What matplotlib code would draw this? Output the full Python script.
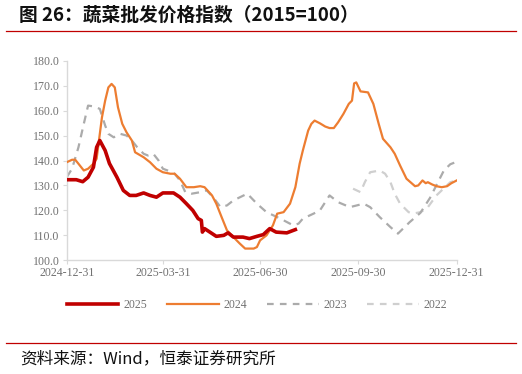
import matplotlib
matplotlib.use("Agg")
import matplotlib.pyplot as plt
import matplotlib.dates as mdates
from matplotlib.lines import Line2D
import pandas as pd

# ── data: day offsets from 2024-12-31 and index values ──
days_2025 = [0, 9, 15, 20, 25, 28, 31, 36, 40, 47, 53, 59, 65, 72, 78, 84, 90,
             100, 106, 112, 118, 123, 126, 127, 129, 134, 140, 147, 151, 156,
             165, 171, 178, 184, 190, 196, 206, 214]
vals_2025 = [132.3, 132.3, 131.5, 133.3, 137.3, 145.3, 148.0, 144.0, 138.8,
             133.3, 128.0, 126.0, 126.0, 127.0, 126.0, 125.3, 127.0, 127.0,
             125.3, 122.7, 120.0, 116.7, 116.0, 111.3, 112.7, 111.3, 109.6,
             110.0, 111.0, 109.3, 109.3, 108.7, 109.6, 110.3, 112.7, 111.3,
             111.0, 112.3]

days_2024 = [0, 5, 8, 11, 16, 20, 25, 28, 31, 33, 36, 39, 42, 45, 48, 52, 56,
             61, 64, 72, 78, 84, 90, 97, 101, 106, 112, 119, 125, 129, 136,
             140, 145, 150, 156, 162, 167, 175, 178, 181, 187, 193, 197, 203,
             209, 214, 218, 221, 226, 229, 232, 237, 242, 246, 250, 254, 259,
             264, 267, 269, 271, 275, 282, 287, 292, 296, 303, 307, 312, 318,
             326, 329, 333, 336, 338, 342, 346, 351, 356, 360, 365]
vals_2024 = [139.3, 140.3, 140.3, 138.7, 136.0, 136.7, 138.7, 140.7, 150.7,
             157.3, 164.0, 169.3, 170.7, 169.3, 161.3, 154.7, 151.3, 148.0,
             143.3, 141.3, 139.3, 136.7, 135.3, 134.7, 134.7, 132.7, 129.3,
             129.3, 129.7, 129.3, 126.0, 122.7, 117.3, 112.0, 109.3, 106.7,
             104.7, 104.7, 105.3, 108.0, 110.0, 114.0, 118.7, 119.3, 122.7,
             129.3, 138.7, 144.0, 152.0, 154.7, 156.0, 154.9, 153.6, 153.0,
             153.0, 155.3, 158.7, 162.7, 164.0, 170.9, 171.3, 167.7, 167.3,
             162.7, 154.7, 148.7, 145.3, 142.7, 138.0, 132.7, 129.7, 130.0,
             132.0, 130.9, 131.3, 130.4, 129.7, 129.3, 129.7, 130.9, 132.0]

days_2023 = [0, 5, 11, 16, 20, 25, 31, 36, 39, 44, 50, 56, 61, 66, 72, 76, 81,
             86, 90, 97, 101, 106, 111, 117, 125, 131, 137, 144, 150, 156, 169,
             178, 187, 200, 212, 217, 221, 231, 237, 246, 254, 265, 278, 284,
             293, 303, 310, 321, 331, 340, 353, 359, 365]
vals_2023 = [133.3, 136.7, 145.3, 154.7, 162.0, 161.7, 160.7, 154.0, 150.7,
             149.3, 150.7, 150.0, 148.0, 145.3, 142.7, 142.0, 142.7, 140.0,
             136.7, 135.6, 134.7, 132.0, 127.3, 126.7, 127.3, 128.0, 125.3,
             121.3, 122.0, 124.0, 126.7, 122.7, 119.3, 116.7, 114.0, 114.7,
             116.7, 118.7, 120.0, 126.0, 123.3, 121.3, 122.7, 121.3, 117.3,
             113.3, 110.7, 115.3, 119.0, 125.0, 136.0, 138.5, 139.5]

days_2022 = [268, 275, 279, 284, 293, 298, 303, 307, 312, 320, 324, 331, 337,
             346, 359, 365]
vals_2022 = [128.7, 127.3, 131.3, 135.3, 136.0, 134.7, 131.3, 126.7, 122.7,
             119.3, 118.7, 119.3, 120.7, 126.0, 131.3, 132.0]

series_labels = ["2025", "2024", "2023", "2022"]
tick_dates = ["2024-12-31", "2025-03-31", "2025-06-30", "2025-09-30", "2025-12-31"]
y_ticks = [100, 110, 120, 130, 140, 150, 160, 170, 180]

title_text = "图 26：蔬菜批发价格指数（2015=100）"
source_text = "资料来源：Wind，恒泰证券研究所"

BASE = pd.Timestamp("2024-12-31")


def to_dates(days):
    return BASE + pd.to_timedelta(days, unit="D")


RED = "#C00000"
ORANGE = "#ED7D31"
GRAY_23 = "#ABABAB"
GRAY_22 = "#CFCFCF"
TICK_COLOR = "#727272"
SERIF = ["Liberation Serif", "DejaVu Serif"]
CJK = ["Noto Sans CJK SC", "DejaVu Sans"]

fig = plt.figure(figsize=(5.22, 3.74), dpi=100)
ax = fig.add_axes([66.7 / 522, 1 - 260.3 / 374, 390 / 522, 199.6 / 374])

ax.plot(to_dates(days_2022), vals_2022, color=GRAY_22, lw=1.6,
        dashes=(3.6, 2.8), zorder=2)
ax.plot(to_dates(days_2023), vals_2023, color=GRAY_23, lw=1.6,
        dashes=(3.6, 2.8), zorder=2)
ax.plot(to_dates(days_2024), vals_2024, color=ORANGE, lw=1.6, zorder=3)
ax.plot(to_dates(days_2025), vals_2025, color=RED, lw=2.6, zorder=4)

ax.set_ylim(100, 180)
ax.set_yticks(y_ticks)
ax.set_yticklabels([f"{v:.1f}" for v in y_ticks])
ax.set_xlim(pd.Timestamp(tick_dates[0]), pd.Timestamp(tick_dates[-1]))
ax.set_xticks([pd.Timestamp(d) for d in tick_dates])
ax.xaxis.set_major_formatter(mdates.DateFormatter("%Y-%m-%d"))

for side in ("top", "right"):
    ax.spines[side].set_visible(False)
for side in ("left", "bottom"):
    ax.spines[side].set_color("#D9D9D9")
    ax.spines[side].set_linewidth(1.0)
ax.tick_params(axis="both", direction="out", length=3, color="#D9D9D9",
               labelcolor=TICK_COLOR, labelsize=8.6, pad=2)
for lab in ax.get_xticklabels() + ax.get_yticklabels():
    lab.set_family(SERIF)

# legend below the plot
handles = [
    Line2D([], [], color=RED, lw=2.6),
    Line2D([], [], color=ORANGE, lw=1.6),
    Line2D([], [], color=GRAY_23, lw=1.6, dashes=(3.0, 2.8)),
    Line2D([], [], color=GRAY_22, lw=1.6, dashes=(3.0, 2.8)),
]
fig.legend(handles, series_labels, loc="center", ncol=4, frameon=False,
           bbox_to_anchor=(257 / 522, 1 - 305 / 374), handlelength=4.3,
           handletextpad=0.4, columnspacing=1.7,
           prop={"family": SERIF, "size": 8.6}, labelcolor=TICK_COLOR)

# title, rules and source note
fig.text(19 / 522, 1 - 15 / 374, title_text, ha="left", va="center",
         fontsize=13.5, fontweight="bold", family=CJK, color="#111111")
fig.add_artist(Line2D([6 / 522, 516 / 522], [1 - 30.5 / 374] * 2,
                      color=RED, lw=0.9))
fig.add_artist(Line2D([6 / 522, 516 / 522], [1 - 342.7 / 374] * 2,
                      color=RED, lw=0.9))
fig.text(20 / 522, 1 - 359 / 374, source_text, ha="left", va="center",
         fontsize=12, family=CJK, color="#111111")

fig.savefig("out.png", dpi=100)
